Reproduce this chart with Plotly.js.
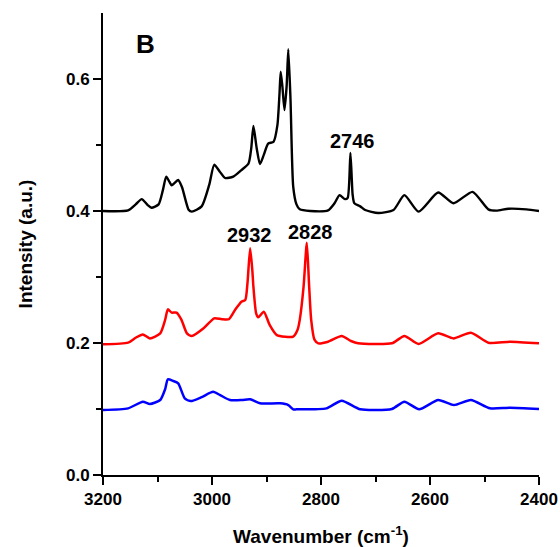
<!DOCTYPE html>
<html>
<head>
<meta charset="utf-8">
<script src="https://cdn.plot.ly/plotly-3.0.1.min.js"></script>
<style>html,body{margin:0;padding:0;background:#fff;}#chart{width:560px;height:547px;}</style>
</head>
<body>
<div id="chart"></div>
<script>
// Black spectrum (offset)
const blackX = [3200,3154,3140,3129,3118,3111,3098,3090,3084,3078,3074,3068,3062,3055,3043,3037,3019,3005,2996,2986,2976,2961,2946,2933,2928,2924,2918,2912,2905,2897,2887,2880,2876,2874,2871,2867,2863,2860,2856,2851,2845,2839,2820,2787,2775,2766,2756,2751,2746,2742,2739,2728,2719,2695,2667,2647,2621,2585,2557,2522,2493,2478,2456,2423,2400];
const blackY = [0.400,0.401,0.410,0.418,0.409,0.405,0.410,0.432,0.452,0.444,0.439,0.443,0.447,0.436,0.402,0.399,0.407,0.440,0.470,0.460,0.450,0.452,0.462,0.472,0.495,0.529,0.495,0.471,0.485,0.502,0.505,0.530,0.580,0.611,0.590,0.553,0.590,0.645,0.570,0.437,0.410,0.4025,0.400,0.401,0.412,0.424,0.418,0.420,0.488,0.425,0.412,0.407,0.4015,0.397,0.4015,0.424,0.399,0.428,0.4117,0.429,0.4025,0.4005,0.4035,0.4025,0.400];
// Red spectrum
const redX = [3200,3154,3140,3127,3114,3095,3086,3081,3074,3065,3056,3046,3037,3016,2996,2982,2969,2957,2946,2939,2935,2930,2926,2924,2919,2915,2905,2894,2881,2851,2843,2839,2832,2826,2822,2818,2812,2805,2787,2762,2745,2732,2670,2647,2621,2585,2557,2525,2493,2453,2400];
const redY = [0.198,0.2005,0.208,0.213,0.207,0.2146,0.235,0.251,0.246,0.246,0.235,0.2146,0.2106,0.222,0.2374,0.236,0.236,0.251,0.2626,0.265,0.29,0.3435,0.31,0.285,0.245,0.239,0.2475,0.227,0.212,0.2096,0.22,0.235,0.285,0.352,0.29,0.235,0.205,0.1995,0.202,0.2106,0.203,0.1995,0.1995,0.2106,0.1985,0.2146,0.207,0.2156,0.2005,0.202,0.1995];
// Blue spectrum
const blueX = [3200,3154,3127,3114,3095,3086,3081,3071,3062,3050,3039,3019,2998,2985,2967,2945,2930,2912,2875,2860,2851,2845,2790,2762,2728,2670,2647,2620,2585,2556,2525,2490,2453,2400];
const blueY = [0.0985,0.101,0.111,0.1076,0.1136,0.130,0.145,0.1424,0.139,0.1162,0.112,0.118,0.126,0.121,0.1136,0.1136,0.1146,0.1086,0.1086,0.106,0.0995,0.0995,0.101,0.1126,0.0995,0.100,0.111,0.0995,0.1136,0.106,0.1136,0.101,0.102,0.100];
// Peak labels
const peakLabels = ["2932","2828","2746"];
const peakLabelX = [2932,2819,2743];
const peakLabelY = [0.364,0.368,0.506];

const FONT = "'Liberation Sans', Arial, sans-serif";
const line = (x,y,c,w) => ({x:x,y:y,type:'scatter',mode:'lines',line:{color:c,width:w,shape:'spline',smoothing:0.6},hoverinfo:'skip'});
const data = [line(blueX,blueY,'#0000ff',2.5), line(redX,redY,'#ff0000',2.5), line(blackX,blackY,'#000000',2.4)];

const annotations = peakLabels.map((t,i)=>({x:peakLabelX[i],y:peakLabelY[i],xref:'x',yref:'y',text:t,showarrow:false,font:{family:FONT,size:20,color:'#000',weight:'bold'}}));
annotations.push({x:3122,y:0.653,xref:'x',yref:'y',text:'B',showarrow:false,font:{family:FONT,size:26,color:'#000',weight:'bold'}});

const axisCommon = {showline:true,linecolor:'#000',linewidth:2,ticks:'outside',ticklen:8,tickwidth:2,tickcolor:'#000',showgrid:false,zeroline:false,mirror:false,
  tickfont:{family:FONT,size:17,color:'#000',weight:'bold'}};
const layout = {
  width:560,height:547,margin:{l:103,r:21,t:13,b:72},
  paper_bgcolor:'#fff',plot_bgcolor:'#fff',showlegend:false,
  xaxis:Object.assign({},axisCommon,{range:[3200,2400],tickvals:[3200,3000,2800,2600,2400],
    minor:{tickvals:[3100,2900,2700,2500],ticklen:5,tickwidth:2,tickcolor:'#000',ticks:'outside'},
    title:{text:'Wavenumber (cm<sup>-1</sup>)',font:{family:FONT,size:19,color:'#000',weight:'bold'},standoff:22}}),
  yaxis:Object.assign({},axisCommon,{range:[0,0.7],tickvals:[0,0.2,0.4,0.6],ticktext:['0.0','0.2','0.4','0.6'],
    minor:{tickvals:[0.1,0.3,0.5],ticklen:5,tickwidth:2,tickcolor:'#000',ticks:'outside'},
    title:{text:'Intensity (a.u.)',font:{family:FONT,size:19,color:'#000',weight:'bold'},standoff:28}}),
  annotations:annotations
};
Plotly.newPlot('chart',data,layout,{staticPlot:true,displayModeBar:false});
</script>
</body>
</html>
